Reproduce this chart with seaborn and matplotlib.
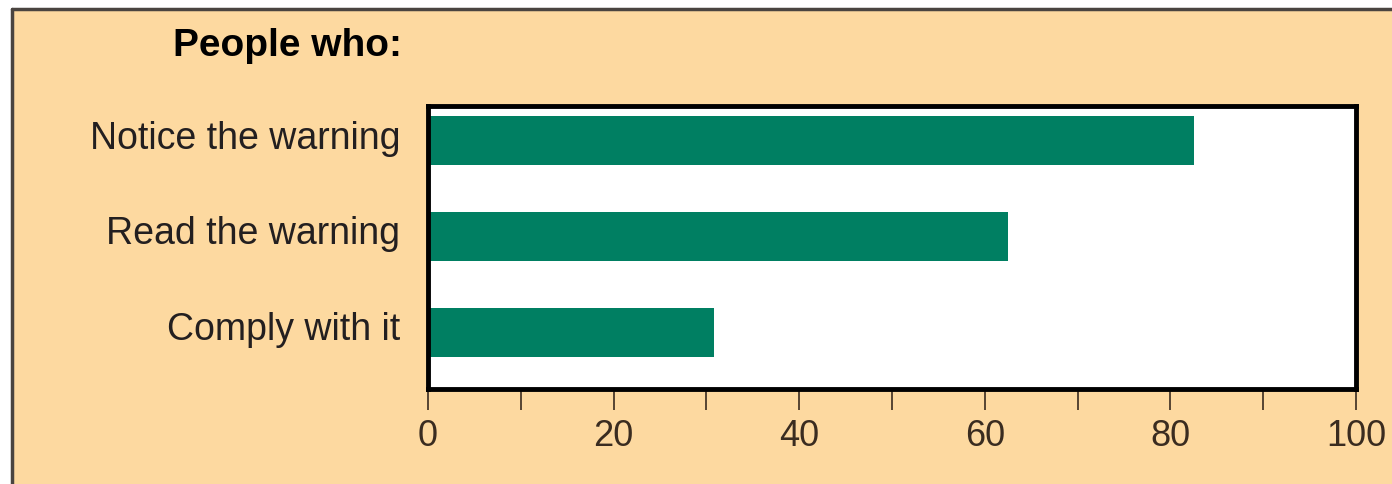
import matplotlib
matplotlib.use("Agg")
import matplotlib.pyplot as plt
import matplotlib.transforms as mtransforms
from matplotlib.patches import Rectangle
from matplotlib.lines import Line2D
import seaborn as sns
import pandas as pd

categories = ["Notice the warning", "Read the warning", "Comply with it"]
values = [82.5, 62.5, 30.8]
major_ticks = [0, 20, 40, 60, 80, 100]
minor_ticks = [10, 30, 50, 70, 90]
title = "People who:"

BG = "#FDD9A0"
GREEN = "#007F62"
TXT = "#231f20"

sns.set_theme(style="white")
plt.rcParams["font.family"] = ["Liberation Sans", "DejaVu Sans"]

W, H = 1392, 485
fig = plt.figure(figsize=(W / 100, H / 100), dpi=100)
fig.patch.set_facecolor("white")

# peach panel with top and left border
x0, ytop = 12 / W, 1 - 10 / H
fig.add_artist(Rectangle((x0, 0), 1 - x0, ytop, transform=fig.transFigure,
                         facecolor=BG, edgecolor="none", zorder=0))
fig.add_artist(Line2D([x0, 1], [ytop, ytop], transform=fig.transFigure,
                      color="#4a4440", lw=2.5, zorder=1))
fig.add_artist(Line2D([x0, x0], [0, ytop], transform=fig.transFigure,
                      color="#4a4440", lw=2.5, zorder=1))

ax = fig.add_axes([428 / W, 1 - 390 / H, (1356 - 428) / W, (390 - 107) / H])
ax.set_facecolor("white")

df = pd.DataFrame({"cat": categories, "val": values})
sns.barplot(data=df, x="val", y="cat", orient="h", color=GREEN,
            saturation=1, width=0.51, ax=ax, edgecolor="none")

ax.set_xlim(0, 100)
ax.set_ylim(2.59, -0.36)
ax.set_xlabel("")
ax.set_ylabel("")

ax.set_xticks(major_ticks)
ax.set_xticks(minor_ticks, minor=True)
ax.set_xticklabels([str(t) for t in major_ticks], fontsize=26, color="#3a2c20")
ax.tick_params(axis="x", which="both", direction="out", length=15, width=1.2,
               color="#3a2c20", bottom=True, pad=6)
ax.tick_params(axis="y", which="both", length=0, pad=20)
shift = mtransforms.ScaledTranslation(0, 7 / 100, fig.dpi_scale_trans)
for lab in ax.get_yticklabels():
    lab.set_fontsize(27)
    lab.set_color(TXT)
    lab.set_transform(lab.get_transform() + shift)

for s in ax.spines.values():
    s.set_visible(True)
    s.set_color("black")
    s.set_linewidth(3.5)

fig.text(402 / W, 1 - 46 / H, title, ha="right", va="center",
         fontsize=28, fontweight="bold", color="black")

fig.savefig("out.png", dpi=100, facecolor=fig.get_facecolor())
